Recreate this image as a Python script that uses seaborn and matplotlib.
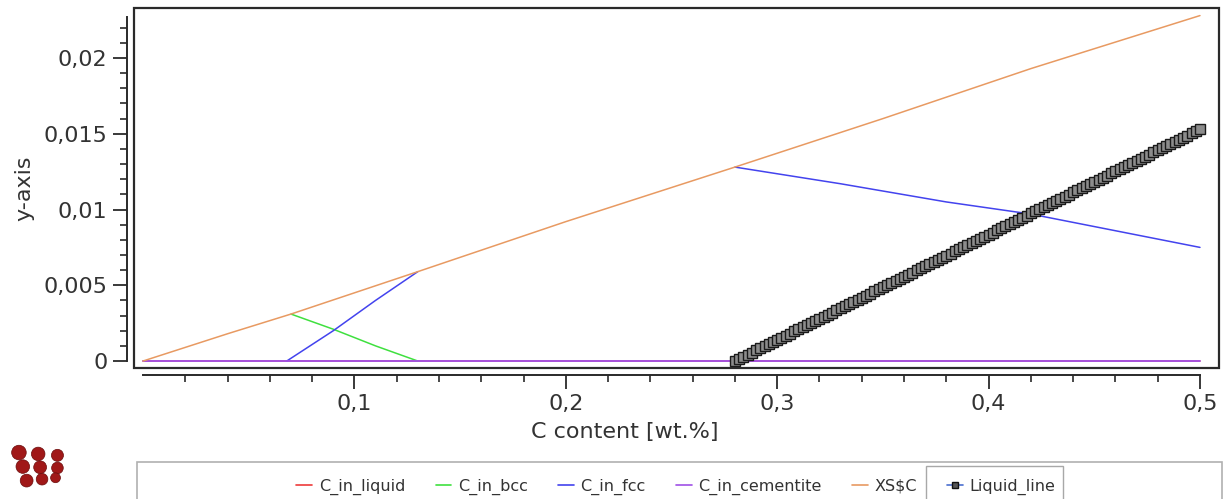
import numpy as np
import pandas as pd
import matplotlib
matplotlib.use("Agg")
import matplotlib.pyplot as plt
from matplotlib.lines import Line2D
from matplotlib.patches import Rectangle
from matplotlib.ticker import FixedLocator
import seaborn as sns

# Values (x = C content in wt.%)
liquid_x = [0.0, 0.5]
liquid_y = [0.0, 0.0]

bcc_x = [0.07, 0.09, 0.11, 0.13]
bcc_y = [0.0031, 0.0021, 0.0010, 0.0]

fcc_low_x = [0.068, 0.09, 0.11, 0.13]
fcc_low_y = [0.0, 0.0020, 0.0040, 0.0059]
fcc_high_x = [0.28, 0.33, 0.38, 0.42, 0.46, 0.5]
fcc_high_y = [0.0128, 0.0117, 0.0105, 0.0097, 0.0086, 0.0075]

cementite_x = [0.0, 0.5]
cementite_y = [0.0, 0.0]

xs_x = [0.0, 0.04, 0.07, 0.13, 0.2, 0.28, 0.35, 0.42, 0.5]
xs_y = [0.0, 0.0018, 0.0031, 0.0059, 0.0092, 0.0128, 0.0160, 0.0193, 0.0228]

liquid_line_x = [0.280, 0.282, 0.284, 0.286, 0.288, 0.290, 0.292, 0.294, 0.296, 0.298,
                 0.300, 0.302, 0.304, 0.306, 0.308, 0.310, 0.312, 0.314, 0.316, 0.318,
                 0.320, 0.322, 0.324, 0.326, 0.328, 0.330, 0.332, 0.334, 0.336, 0.338,
                 0.340, 0.342, 0.344, 0.346, 0.348, 0.350, 0.352, 0.354, 0.356, 0.358,
                 0.360, 0.362, 0.364, 0.366, 0.368, 0.370, 0.372, 0.374, 0.376, 0.378,
                 0.380, 0.382, 0.384, 0.386, 0.388, 0.390, 0.392, 0.394, 0.396, 0.398,
                 0.400, 0.402, 0.404, 0.406, 0.408, 0.410, 0.412, 0.414, 0.416, 0.418,
                 0.420, 0.422, 0.424, 0.426, 0.428, 0.430, 0.432, 0.434, 0.436, 0.438,
                 0.440, 0.442, 0.444, 0.446, 0.448, 0.450, 0.452, 0.454, 0.456, 0.458,
                 0.460, 0.462, 0.464, 0.466, 0.468, 0.470, 0.472, 0.474, 0.476, 0.478,
                 0.480, 0.482, 0.484, 0.486, 0.488, 0.490, 0.492, 0.494, 0.496, 0.498,
                 0.500]
liquid_line_y = [0.00000, 0.00014, 0.00028, 0.00042, 0.00056, 0.00070, 0.00083, 0.00097,
                 0.00111, 0.00125, 0.00139, 0.00153, 0.00167, 0.00181, 0.00195, 0.00209,
                 0.00223, 0.00236, 0.00250, 0.00264, 0.00278, 0.00292, 0.00306, 0.00320,
                 0.00334, 0.00348, 0.00362, 0.00376, 0.00389, 0.00403, 0.00417, 0.00431,
                 0.00445, 0.00459, 0.00473, 0.00487, 0.00501, 0.00515, 0.00529, 0.00542,
                 0.00556, 0.00570, 0.00584, 0.00598, 0.00612, 0.00626, 0.00640, 0.00654,
                 0.00668, 0.00682, 0.00695, 0.00709, 0.00723, 0.00737, 0.00751, 0.00765,
                 0.00779, 0.00793, 0.00807, 0.00821, 0.00835, 0.00848, 0.00862, 0.00876,
                 0.00890, 0.00904, 0.00918, 0.00932, 0.00946, 0.00960, 0.00974, 0.00987,
                 0.01001, 0.01015, 0.01029, 0.01043, 0.01057, 0.01071, 0.01085, 0.01099,
                 0.01113, 0.01127, 0.01140, 0.01154, 0.01168, 0.01182, 0.01196, 0.01210,
                 0.01224, 0.01238, 0.01252, 0.01266, 0.01280, 0.01293, 0.01307, 0.01321,
                 0.01335, 0.01349, 0.01363, 0.01377, 0.01391, 0.01405, 0.01419, 0.01432,
                 0.01446, 0.01460, 0.01474, 0.01488, 0.01502, 0.01516, 0.01530]

x_ticks = [0.1, 0.2, 0.3, 0.4, 0.5]
x_ticklabels = ["0,1", "0,2", "0,3", "0,4", "0,5"]
y_ticks = [0.0, 0.005, 0.01, 0.015, 0.02]
y_ticklabels = ["0", "0,005", "0,01", "0,015", "0,02"]

series_names = ["C_in_liquid", "C_in_bcc", "C_in_fcc", "C_in_cementite", "XS$C", "Liquid_line"]
colors = ["#EE3B3B", "#3FE03F", "#4343EE", "#A050E6", "#E89A62", "#111111"]

# logo spheres (decorative)
logo_x = [0, 1, 2, 0.2, 1.1, 2.0, 0.4, 1.2, 1.9]
logo_y = [2, 1.9, 1.8, 1, 0.95, 0.9, 0, 0.1, 0.2]
logo_s = [110, 95, 75, 95, 85, 70, 85, 70, 50]

sns.set_theme(style="white")
plt.rcParams["font.family"] = ["DejaVu Sans"]

fig = plt.figure(figsize=(12.32, 4.99), dpi=100)
ax = fig.add_axes([134 / 1232, 1 - 368 / 499, (1219 - 134) / 1232, 360 / 499])

lw = 1.1
sns.lineplot(x=liquid_x, y=liquid_y, color=colors[0], lw=lw, ax=ax, sort=False, estimator=None)
sns.lineplot(x=bcc_x, y=bcc_y, color=colors[1], lw=lw, ax=ax, sort=False, estimator=None)
sns.lineplot(x=fcc_low_x, y=fcc_low_y, color=colors[2], lw=lw, ax=ax, sort=False, estimator=None)
sns.lineplot(x=fcc_high_x, y=fcc_high_y, color=colors[2], lw=lw, ax=ax, sort=False, estimator=None)
sns.lineplot(x=cementite_x, y=cementite_y, color=colors[3], lw=lw + 0.2, ax=ax, sort=False, estimator=None)
sns.lineplot(x=xs_x, y=xs_y, color=colors[4], lw=lw, ax=ax, sort=False, estimator=None)
sns.lineplot(x=liquid_line_x, y=liquid_line_y, color=colors[5], lw=1.0, ax=ax, sort=False,
             estimator=None, marker="s", markersize=6.5, markerfacecolor="#8c8c8c",
             markeredgecolor="#1a1a1a", markeredgewidth=1.0)

ax.set_xlim(-0.00426, 0.509)
ax.set_ylim(-0.00046, 0.0233)

# frame box plus offset axis lines
for s in ["top", "right"]:
    ax.spines[s].set_visible(False)
ax.add_patch(Rectangle((0, 0), 1, 1, transform=ax.transAxes, fill=False,
                       ec="#2a2a2a", lw=1.6, clip_on=False, zorder=5))
ax.spines["left"].set_position(("outward", 5))
ax.spines["bottom"].set_position(("outward", 5))
ax.spines["left"].set_bounds(0, 0.0227)
ax.spines["bottom"].set_bounds(0, 0.5)
for s in ["left", "bottom"]:
    ax.spines[s].set_color("#2a2a2a")
    ax.spines[s].set_linewidth(1.4)

ax.xaxis.set_major_locator(FixedLocator(x_ticks))
ax.xaxis.set_minor_locator(FixedLocator([0.02, 0.04, 0.06, 0.08, 0.12, 0.14, 0.16, 0.18,
                                         0.22, 0.24, 0.26, 0.28, 0.32, 0.34, 0.36, 0.38,
                                         0.42, 0.44, 0.46, 0.48]))
ax.set_xticklabels(x_ticklabels)
ax.yaxis.set_major_locator(FixedLocator(y_ticks))
ax.yaxis.set_minor_locator(FixedLocator([0.001, 0.002, 0.003, 0.004, 0.006, 0.007, 0.008,
                                         0.009, 0.011, 0.012, 0.013, 0.014, 0.016, 0.017,
                                         0.018, 0.019, 0.021, 0.022]))
ax.set_yticklabels(y_ticklabels)
ax.tick_params(which="major", direction="out", length=10, width=1.3, color="#2a2a2a",
               labelsize=16, labelcolor="#333333", left=True, bottom=True, pad=4)
ax.tick_params(which="minor", direction="out", length=5, width=1.2, color="#2a2a2a",
               left=True, bottom=True)
ax.grid(False)

ax.set_xlabel("C content [wt.%]", fontsize=16, color="#333333")
ax.xaxis.set_label_coords(0.4525, -0.15)
ax.set_ylabel("y-axis", fontsize=16, color="#333333")
ax.yaxis.set_label_coords(-0.092, 0.5)

# legend box at the bottom, with the selected entry outlined
fig.patches.append(Rectangle((137 / 1232, -0.02), (1222 - 137) / 1232, 1 - 462 / 499 + 0.02,
                             transform=fig.transFigure, fill=False, ec="#b0b0b0", lw=1.2))
fig.patches.append(Rectangle((926 / 1232, -0.02), (1063 - 926) / 1232, 1 - 466 / 499 + 0.02,
                             transform=fig.transFigure, fill=False, ec="#a8a8a8", lw=1.0))
handles = []
for name, c in zip(series_names, colors):
    if name == "Liquid_line":
        handles.append(Line2D([], [], color="#4a6fd0", lw=1.2, marker="s", markersize=5,
                              markerfacecolor="#555555", markeredgecolor="#111111"))
    else:
        handles.append(Line2D([], [], color=c, lw=1.2))
fig.legend(handles, series_names, loc="center", bbox_to_anchor=(676 / 1232, 1 - 487 / 499),
           ncol=6, frameon=False, fontsize=11.5, handlelength=1.0, handletextpad=0.4,
           columnspacing=1.9, labelcolor="#333333")

# decorative logo
lax = fig.add_axes([0.006, 0.02, 0.05, 0.09])
lax.scatter(logo_x, logo_y, s=logo_s, color="#a01818", edgecolor="#6a0c0c", lw=0.5)
lax.set_xlim(-0.6, 2.6)
lax.set_ylim(-0.6, 2.6)
lax.axis("off")

fig.savefig("out.png", dpi=100)
